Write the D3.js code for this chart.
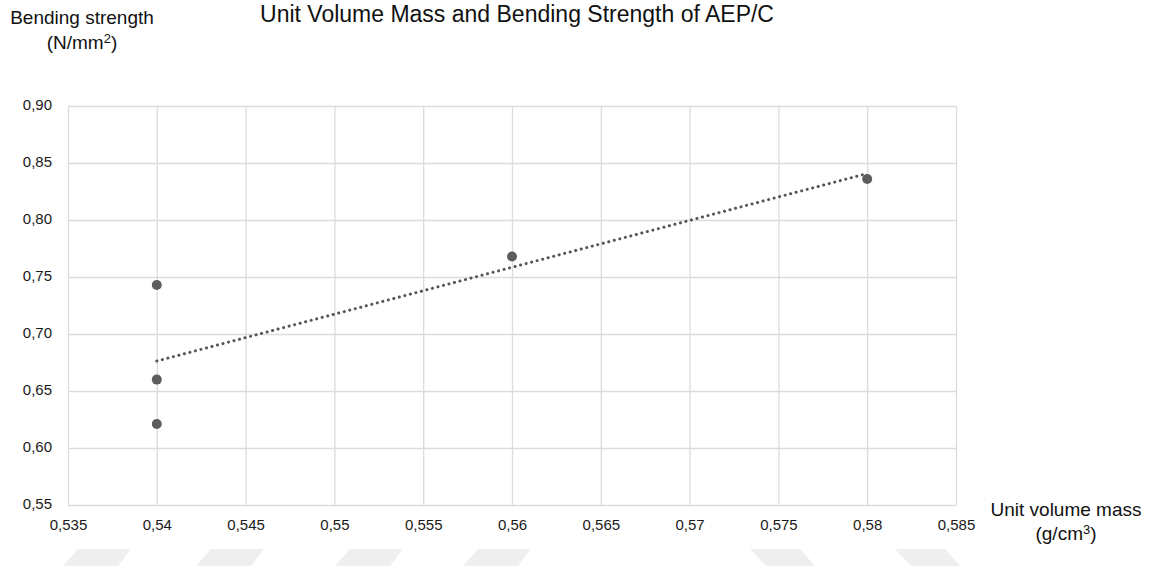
<!DOCTYPE html>
<html>
<head>
<meta charset="utf-8">
<script src="https://cdn.jsdelivr.net/npm/d3@7"></script>
<style>
  body { margin: 0; background: #fff; }
  text { font-family: "Liberation Sans", Arial, Helvetica, sans-serif; }
</style>
</head>
<body>
<div id="wrapper"></div>
<script>
// data
const massValues = [0.54, 0.54, 0.54, 0.56, 0.58];
const strengthValues = [0.743, 0.660, 0.621, 0.768, 0.836];
const xTicks = [0.535, 0.54, 0.545, 0.55, 0.555, 0.56, 0.565, 0.57, 0.575, 0.58, 0.585];
const yTicks = [0.55, 0.60, 0.65, 0.70, 0.75, 0.80, 0.85, 0.90];

let dimensions = {
  width: 1153,
  height: 569,
  margin: { top: 106, left: 68, bottom: 64, right: 197 }
}
dimensions.boundedWidth = dimensions.width - dimensions.margin.left - dimensions.margin.right;
dimensions.boundedHeight = dimensions.height - dimensions.margin.top - dimensions.margin.bottom;

const data = massValues.map((x, i) => ({ x: x, y: strengthValues[i] }));

let wrapper = d3.select("#wrapper").append("svg")
    .attr("width", dimensions.width)
    .attr("height", dimensions.height);

// faint decorative shapes along the bottom edge
const decoLeft = [63, 196, 335, 463];
const decoRight = [750, 895];
wrapper.selectAll(".decoL").data(decoLeft).enter().append("path")
    .attr("class", "decoL")
    .attr("d", d => `M${d + 15},549 L${d + 68},549 L${d + 55},566 L${d},566 Z`)
    .attr("fill", "#efefef");
wrapper.selectAll(".decoR").data(decoRight).enter().append("path")
    .attr("class", "decoR")
    .attr("d", d => `M${d},549 L${d + 50},549 L${d + 65},566 L${d + 16},566 Z`)
    .attr("fill", "#efefef");

let container = wrapper.append("g")
    .attr("transform", `translate(${dimensions.margin.left}, ${dimensions.margin.top})`);

const xScale = d3.scaleLinear()
    .domain([0.535, 0.585])
    .range([0, dimensions.boundedWidth]);
const yScale = d3.scaleLinear()
    .domain([0.55, 0.90])
    .range([dimensions.boundedHeight, 0]);

// grid
const xGrid = d3.axisBottom(xScale).tickValues(xTicks)
    .tickSize(-dimensions.boundedHeight).tickFormat("");
const yGrid = d3.axisLeft(yScale).tickValues(yTicks)
    .tickSize(-dimensions.boundedWidth).tickFormat("");
const gx = container.append("g")
    .attr("transform", `translate(0, ${dimensions.boundedHeight})`)
    .call(xGrid);
const gy = container.append("g").call(yGrid);
[gx, gy].forEach(g => {
  g.select(".domain").remove();
  g.selectAll("line").attr("stroke", "#dcdcdc").attr("stroke-width", 1.3);
});

// tick labels (comma decimals)
const xAxis = container.append("g")
    .attr("transform", `translate(0, ${dimensions.boundedHeight})`)
    .call(d3.axisBottom(xScale).tickValues(xTicks).tickSize(0).tickPadding(14)
      .tickFormat(d => d3.format(".3~f")(d).replace(".", ",")));
const yAxis = container.append("g")
    .call(d3.axisLeft(yScale).tickValues(yTicks).tickSize(0).tickPadding(16)
      .tickFormat(d => d3.format(".2f")(d).replace(".", ",")));
[xAxis, yAxis].forEach(g => {
  g.select(".domain").remove();
  g.selectAll("text")
    .style("font-family", '"Liberation Sans", Arial, sans-serif')
    .style("font-size", "15px")
    .attr("fill", "#1a1a1a");
});
yAxis.selectAll("text").attr("dy", "0.25em");

// linear trendline
const mx = d3.mean(data, d => d.x), my = d3.mean(data, d => d.y);
const slope = d3.sum(data, d => (d.x - mx) * (d.y - my)) / d3.sum(data, d => (d.x - mx) ** 2);
const x0 = d3.min(massValues), x1 = d3.max(massValues);
container.append("line")
    .attr("x1", xScale(x0)).attr("y1", yScale(my + slope * (x0 - mx)))
    .attr("x2", xScale(x1)).attr("y2", yScale(my + slope * (x1 - mx)))
    .attr("stroke", "#555")
    .attr("stroke-width", 3)
    .attr("stroke-dasharray", "0.1 5.6")
    .attr("stroke-linecap", "round");

// points
container.selectAll("circle")
    .data(data)
    .enter()
    .append("circle")
    .attr("cx", d => xScale(d.x))
    .attr("cy", d => yScale(d.y))
    .attr("r", 5)
    .attr("fill", "#5d5d5d");

// Title
wrapper.append("text")
    .attr("x", 517).attr("y", 22)
    .attr("text-anchor", "middle")
    .style("font-size", "23px")
    .attr("fill", "#111")
    .text("Unit Volume Mass and Bending Strength of AEP/C");

// Y label
const yl = wrapper.append("text")
    .attr("text-anchor", "middle")
    .style("font-size", "19px")
    .attr("fill", "#111");
yl.append("tspan").attr("x", 82).attr("y", 24).text("Bending strength");
const yl2 = yl.append("tspan").attr("x", 82).attr("y", 49);
yl2.append("tspan").text("(N/mm");
yl2.append("tspan").attr("dy", -6).style("font-size", "13px").text("2");
yl2.append("tspan").attr("dy", 6).text(")");

// X label
const xl = wrapper.append("text")
    .attr("text-anchor", "middle")
    .style("font-size", "19px")
    .attr("fill", "#111");
xl.append("tspan").attr("x", 1066).attr("y", 516).text("Unit volume mass");
const xl2 = xl.append("tspan").attr("x", 1066).attr("y", 540);
xl2.append("tspan").text("(g/cm");
xl2.append("tspan").attr("dy", -6).style("font-size", "13px").text("3");
xl2.append("tspan").attr("dy", 6).text(")");
</script>
</body>
</html>
